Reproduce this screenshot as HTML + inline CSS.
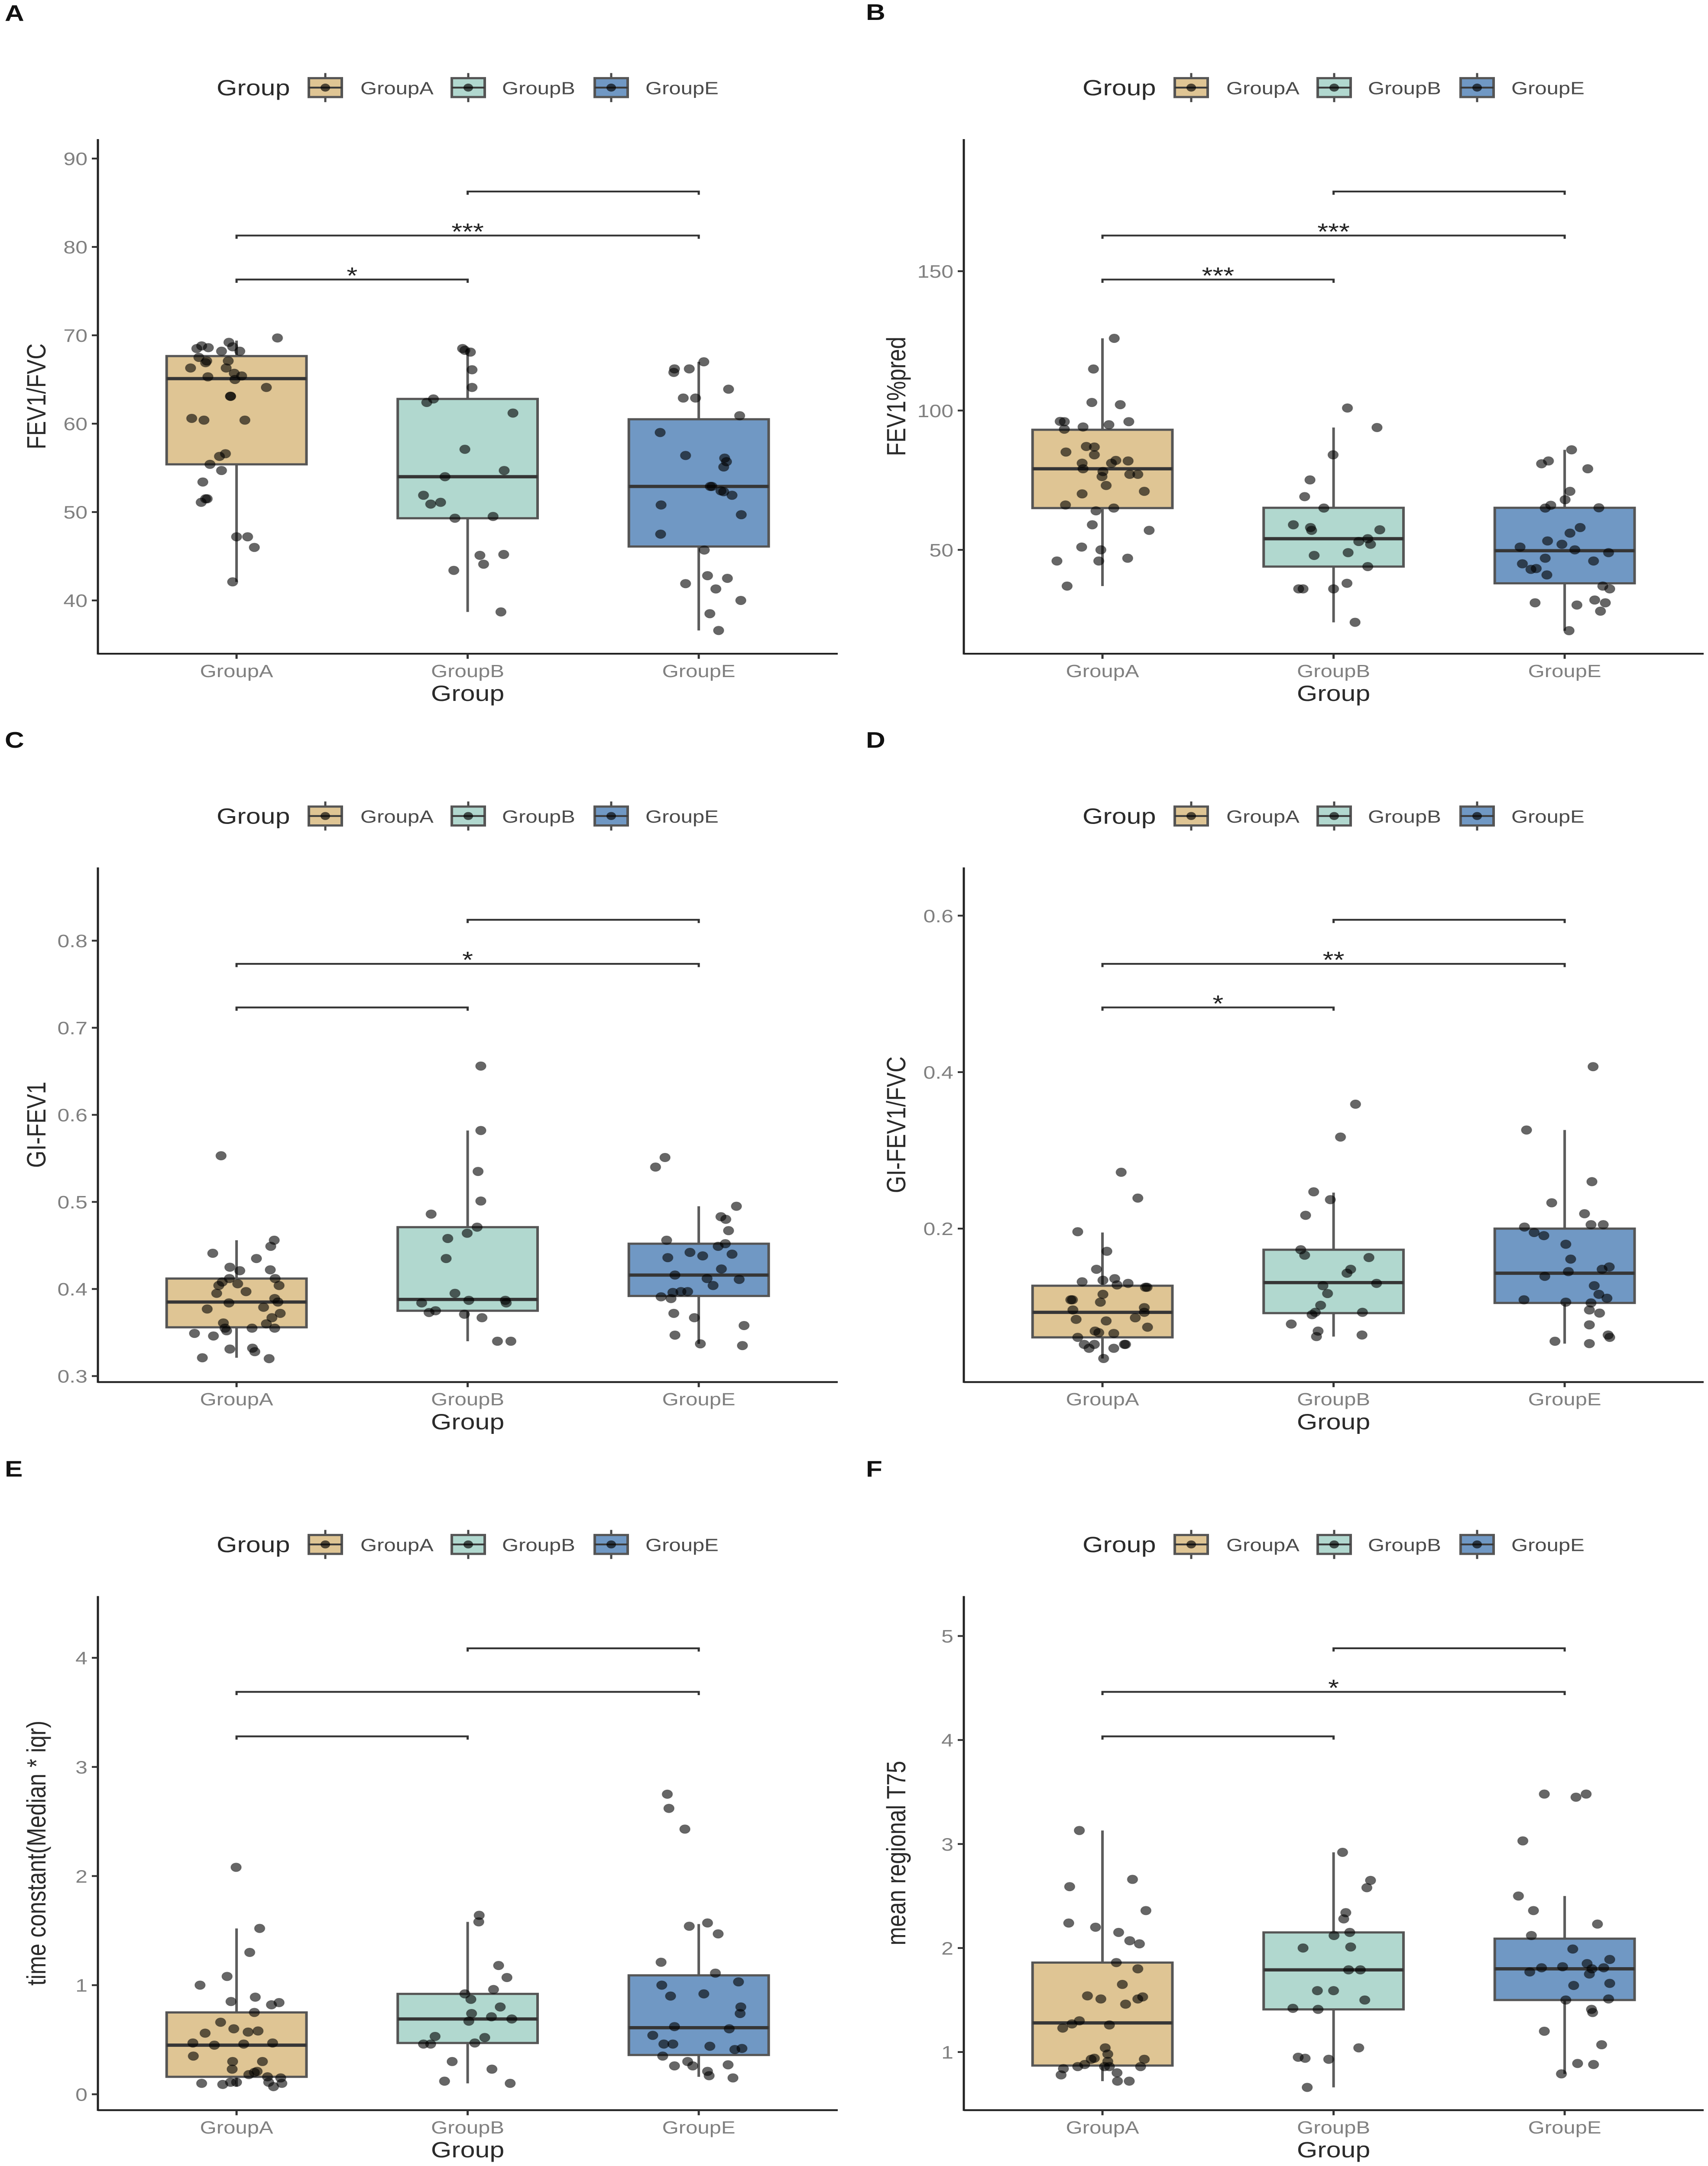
<!DOCTYPE html>
<html lang="en">
<head>
<meta charset="utf-8">
<title>Box plots by group: FEV1/FVC, FEV1%pred, GI-FEV1, GI-FEV1/FVC, time constant, mean regional T75</title>
<style>
html,body{margin:0;padding:0;background:#fff;width:100vw;height:100vh;overflow:hidden;}
#figure{display:block;position:absolute;left:0;top:0;width:100vw;height:100vh;font-family:"Liberation Sans",sans-serif;}
</style>
</head>
<body>
<svg id="figure" xmlns="http://www.w3.org/2000/svg" viewBox="0 0 3943 5959" preserveAspectRatio="none">
<rect x="0" y="0" width="3943" height="5959" fill="#ffffff"/>
<g font-family="'Liberation Sans',sans-serif" font-weight="700" font-size="62" fill="#111">
<text x="11" y="57">A</text>
<text x="1999" y="55">B</text>
<text x="11" y="2057">C</text>
<text x="1999" y="2057">D</text>
<text x="11" y="4062">E</text>
<text x="1999" y="4062">F</text>
</g>
</svg>
<script>
/* ---------- shared categories ---------- */
const categories = ['GroupA','GroupB','GroupE'];

/* ---------- Panel A: FEV1/FVC ---------- */
const panelA_yDomain = [33.97,92.2];
const panelA_ticks = [40,50,60,70,80,90];
const panelA_tickLabels = ['40','50','60','70','80','90'];
const panelA_q1 = [55.4,49.3,46.1];
const panelA_median = [65.1,54.0,52.9];
const panelA_q3 = [67.65,62.8,60.5];
const panelA_lower = [42.1,38.7,36.6];
const panelA_upper = [69.4,68.5,67.0];
const panelA_brackets = [76.31,81.29,86.27];
const panelA_stars = ['*','***',''];
const panelA_groupA_values = [69.7,68.5,68.8,68.6,69.2,68.7,68.2,68.2,67.5,66.9,67.1,67.1,66.3,66.3,65.7,65.4,65.3,65.0,64.1,63.1,63.1,60.6,60.4,60.4,56.6,56.3,55.4,54.7,53.4,51.5,51.5,51.1,47.2,47.2,46.0,42.1];
const panelA_groupA_jitter = [.177,-.172,-.151,-.122,-.033,-.017,.014,-.065,-.163,-.134,-.129,-.036,-.199,-.045,-.010,.022,-.124,-.007,.129,-.026,-.026,-.194,-.141,.036,-.048,-.074,-.115,-.065,-.146,-.127,-.134,-.153,0,.048,.077,-.017];
const panelA_groupB_values = [68.5,68.3,68.1,66.1,64.1,62.8,62.4,61.2,57.1,54.7,54.0,51.9,51.1,50.9,49.3,49.5,45.1,45.2,44.1,43.4,38.7];
const panelA_groupB_jitter = [-.022,-.012,.012,.019,.019,-.148,-.177,.196,-.012,.158,-.098,-.191,-.117,-.160,-.055,.110,.053,.156,.069,-.060,.144];
const panelA_groupE_values = [67.0,66.2,65.8,66.2,63.9,62.9,62.9,60.9,59.0,56.4,56.1,55.7,55.1,52.9,52.9,52.4,52.3,51.9,50.8,49.7,47.5,45.7,42.8,42.5,41.9,41.3,40.0,38.5,36.6];
const panelA_groupE_jitter = [.022,-.105,-.108,-.041,.129,-.067,-.014,.177,-.167,-.057,.112,.120,.108,.057,.050,.096,.108,.144,-.163,.184,-.165,.024,.038,.124,-.057,.074,.182,.048,.086];

/* ---------- Panel B: FEV1%pred ---------- */
const panelB_yDomain = [12.73,197.4];
const panelB_ticks = [50,100,150];
const panelB_tickLabels = ['50','100','150'];
const panelB_q1 = [65.0,44.0,38.0];
const panelB_median = [79.1,54.0,49.7];
const panelB_q3 = [93.1,65.1,65.1];
const panelB_lower = [37.0,24.0,21.0];
const panelB_upper = [125.9,93.9,85.9];
const panelB_brackets = [147.0,162.8,178.6];
const panelB_stars = ['***','***',''];
const panelB_groupA_values = [125.9,114.9,102.9,102.1,96.1,96.0,94.1,94.9,96.0,93.3,87.1,86.9,85.1,84.1,81.9,82.1,81.1,81.1,79.1,78.1,77.1,77.1,76.3,73.1,70.1,71.0,66.1,64.0,65.0,59.0,57.0,51.0,50.0,46.0,46.0,47.0,37.0];
const panelB_groupA_jitter = [.051,-.039,-.046,.077,-.183,-.165,-.084,.028,.114,-.165,-.070,-.035,-.158,-.035,.111,.058,.039,-.088,-.084,.002,.118,.153,-.002,.016,-.088,.181,-.160,-.028,.049,-.044,.202,-.090,-.007,-.197,-.016,.109,-.153];
const panelB_groupB_values = [100.9,93.9,84.1,75.1,69.1,65.0,59.0,58.0,57.0,57.2,54.0,53.0,52.0,48.0,49.0,44.0,38.0,36.0,36.0,36.0,24.0];
const panelB_groupB_jitter = [.060,.188,-.002,-.102,-.125,-.042,-.174,-.100,-.095,.200,.148,.109,.160,-.084,.063,.148,.058,0,-.151,-.132,.093];
const panelB_groupE_values = [85.9,80.9,81.9,79.1,71.0,68.0,66.0,65.0,65.1,58.0,56.0,53.2,52.0,51.0,50.0,49.0,47.0,46.0,45.0,43.0,43.3,41.0,37.0,36.0,31.0,30.2,32.0,31.0,28.0,21.0];
const panelB_groupE_jitter = [.030,-.100,-.070,.100,.023,.002,-.060,-.084,.148,.067,.023,-.074,-.012,-.193,.044,.190,-.084,.125,-.183,-.146,-.123,-.077,.165,.195,-.128,.053,.130,.176,.155,.019];

/* ---------- Panel C: GI-FEV1 ---------- */
const panelC_yDomain = [0.2931,0.8841];
const panelC_ticks = [0.3,0.4,0.5,0.6,0.7,0.8];
const panelC_tickLabels = ['0.3','0.4','0.5','0.6','0.7','0.8'];
const panelC_q1 = [.356,.375,.392];
const panelC_median = [.385,.388,.416];
const panelC_q3 = [.412,.471,.452];
const panelC_lower = [.321,.340,.337];
const panelC_upper = [.456,.582,.495];
const panelC_brackets = [.7233,.7734,.8240];
const panelC_stars = ['','*',''];
const panelC_groupA_values = [.553,.456,.449,.441,.435,.425,.421,.422,.412,.408,.412,.406,.404,.404,.397,.395,.389,.377,.384,.385,.379,.372,.367,.360,.361,.355,.352,.355,.355,.349,.346,.331,.332,.328,.321,.320];
const panelC_groupA_jitter = [-.067,.163,.148,-.103,.086,-.029,.014,.146,.167,-.062,-.031,.005,-.077,.184,.041,-.086,.165,-.127,-.033,.179,.117,.189,.153,.129,-.057,-.050,-.043,.165,.067,-.182,-.100,-.029,.069,.079,-.148,.141];
const panelC_groupB_values = [.656,.582,.535,.501,.486,.471,.464,.458,.435,.395,.387,.387,.384,.384,.375,.373,.371,.367,.340,.340];
const panelC_groupB_jitter = [.057,.057,.045,.057,-.158,.041,-.002,-.086,-.093,-.055,.005,.163,-.199,.167,-.139,-.167,-.014,.062,.129,.187];
const panelC_groupE_values = [.551,.540,.495,.483,.480,.467,.456,.452,.449,.442,.438,.440,.436,.423,.416,.412,.411,.404,.397,.397,.396,.391,.389,.372,.367,.358,.347,.337,.335];
const panelC_groupE_jitter = [-.146,-.187,.163,.096,.117,.129,-.139,.115,.084,-.038,.017,.144,-.134,.098,-.103,.036,.175,.062,-.048,-.077,-.112,-.163,-.120,-.108,-.019,.196,-.103,.007,.189];

/* ---------- Panel D: GI-FEV1/FVC ---------- */
const panelD_yDomain = [0.00385,0.6616];
const panelD_ticks = [0.2,0.4,0.6];
const panelD_tickLabels = ['0.2','0.4','0.6'];
const panelD_q1 = [.061,.092,.105];
const panelD_median = [.093,.131,.143];
const panelD_q3 = [.127,.173,.200];
const panelD_lower = [.034,.062,.053];
const panelD_upper = [.195,.246,.326];
const panelD_brackets = [.4827,.5384,.5947];
const panelD_stars = ['*','**',''];
const panelD_groupA_values = [.272,.239,.196,.171,.148,.132,.134,.136,.128,.130,.125,.125,.109,.109,.116,.106,.099,.096,.093,.084,.086,.082,.074,.069,.067,.066,.061,.052,.047,.052,.047,.052,.052,.034];
const panelD_groupA_jitter = [.081,.153,-.107,.019,-.026,-.088,.002,.053,.063,.111,.186,.193,-.137,-.130,.002,-.009,.181,-.128,.181,-.114,.142,.016,.195,-.032,-.016,.049,-.107,-.079,-.058,-.035,.049,.100,.095,.005];
const panelD_groupB_values = [.359,.317,.247,.237,.217,.173,.166,.163,.148,.143,.127,.130,.117,.102,.093,.090,.093,.078,.069,.064,.062];
const panelD_groupB_jitter = [.095,.030,-.086,-.014,-.121,-.142,-.125,.153,.074,.058,-.046,.186,-.026,-.056,.125,-.093,-.079,-.183,-.067,.123,-.074];
const panelD_groupE_values = [.407,.326,.260,.233,.219,.205,.205,.202,.195,.191,.180,.161,.151,.148,.145,.139,.127,.116,.111,.109,.106,.105,.096,.092,.077,.064,.061,.056,.053];
const panelD_groupE_jitter = [.123,-.165,.118,-.056,.086,.114,.167,-.174,-.132,-.090,.005,.026,.193,.162,.016,-.086,.128,.148,.183,-.176,.005,.114,.107,.151,.107,.188,.195,-.042,.107];

/* ---------- Panel E: time constant ---------- */
const panelE_yDomain = [-0.1457,4.566];
const panelE_ticks = [0,1,2,3,4];
const panelE_tickLabels = ['0','1','2','3','4'];
const panelE_q1 = [.16,.47,.36];
const panelE_median = [.45,.69,.61];
const panelE_q3 = [.75,.92,1.09];
const panelE_lower = [.07,.10,.16];
const panelE_upper = [1.52,1.58,1.56];
const panelE_brackets = [3.28,3.688,4.087];
const panelE_stars = ['','',''];
const panelE_groupA_values = [2.08,1.52,1.30,1.08,1.00,.85,.89,.82,.84,.75,.66,.60,.56,.57,.58,.47,.45,.46,.47,.35,.30,.30,.23,.21,.20,.18,.16,.15,.10,.09,.11,.11,.11,.10,.07];
const panelE_groupA_jitter = [-.002,.100,.057,-.041,-.158,-.024,.081,.151,.184,.077,-.069,-.012,-.136,.050,.093,-.189,-.096,.031,.156,-.187,-.017,.112,-.019,.089,.077,.053,.134,.191,-.151,-.060,-.026,0,.139,.196,.160];
const panelE_groupB_values = [1.64,1.58,1.18,1.07,.96,.92,.87,.80,.74,.71,.67,.69,.53,.52,.46,.46,.47,.30,.23,.12,.10];
const panelE_groupB_jitter = [.050,.048,.134,.170,.112,-.012,.014,.141,.017,.103,.005,.191,-.141,.074,-.191,-.160,.031,-.067,.105,-.100,.184];
const panelE_groupE_values = [2.75,2.62,2.43,1.57,1.54,1.47,1.21,1.11,1.00,1.03,.90,.92,.80,.74,.62,.60,.54,.46,.46,.44,.41,.42,.35,.30,.26,.26,.27,.21,.17,.15];
const panelE_groupE_jitter = [-.136,-.129,-.060,.038,-.041,.084,-.163,.072,-.160,.172,-.122,.022,.182,.179,-.105,.132,-.199,-.151,-.112,.048,.156,.187,-.156,-.048,-.026,-.105,.127,.038,.045,.148];

/* ---------- Panel F: mean regional T75 ---------- */
const panelF_yDomain = [0.441,5.384];
const panelF_ticks = [1,2,3,4,5];
const panelF_tickLabels = ['1','2','3','4','5'];
const panelF_q1 = [.87,1.41,1.50];
const panelF_median = [1.28,1.79,1.80];
const panelF_q3 = [1.86,2.15,2.09];
const panelF_lower = [.72,.66,.79];
const panelF_upper = [3.13,2.92,2.50];
const panelF_brackets = [4.035,4.463,4.882];
const panelF_stars = ['','*',''];
const panelF_groupA_values = [3.13,2.66,2.59,2.36,2.24,2.20,2.15,2.07,2.04,1.86,1.80,1.65,1.54,1.51,1.53,1.51,1.46,1.30,1.27,1.23,1.26,1.04,.98,.94,.93,.93,.91,.88,.86,.86,.84,.86,.86,.80,.78,.72,.72];
const panelF_groupA_jitter = [-.100,.130,-.142,.188,-.146,-.030,.070,.118,.160,.060,.153,.086,-.065,-.007,.174,.153,.100,-.100,-.132,-.172,.030,.012,.023,-.035,-.049,.181,.023,-.077,-.107,.165,-.169,.009,.030,.063,-.179,.065,.116];
const panelF_groupB_values = [2.92,2.65,2.58,2.34,2.28,2.15,2.12,2.00,2.01,1.79,1.79,1.59,1.59,1.50,1.42,1.41,1.04,.95,.94,.93,.66];
const panelF_groupB_jitter = [.039,.160,.144,.053,.044,.070,.002,-.132,.074,.065,.116,-.070,0,.135,-.176,-.067,.109,-.153,-.123,-.021,-.114];
const panelF_groupE_values = [3.48,3.48,3.45,3.03,2.50,2.36,2.23,2.12,1.99,1.89,1.85,1.82,1.81,1.77,1.81,1.80,1.75,1.66,1.64,1.50,1.51,1.41,1.38,1.20,1.07,.89,.88,.79];
const panelF_groupE_jitter = [-.088,.093,.049,-.181,-.200,-.135,.142,-.144,.035,.195,.097,-.009,-.100,-.151,.169,.118,.107,.195,.039,.005,.190,.116,.121,-.088,.160,.056,.125,-.014];

/* ---------- layout of each panel ---------- */
const panels = [
 {id:'a',title:'FEV1/FVC',dx:0,top:382.7,bottom:1798.5,legendY:241,titleX:105,domain:panelA_yDomain,ticks:panelA_ticks,labels:panelA_tickLabels,q1:panelA_q1,med:panelA_median,q3:panelA_q3,lo:panelA_lower,hi:panelA_upper,br:panelA_brackets,st:panelA_stars,vals:[panelA_groupA_values,panelA_groupB_values,panelA_groupE_values],jit:[panelA_groupA_jitter,panelA_groupB_jitter,panelA_groupE_jitter]},
 {id:'b',title:'FEV1%pred',dx:1999,top:382.7,bottom:1798.5,legendY:241,titleX:2090,domain:panelB_yDomain,ticks:panelB_ticks,labels:panelB_tickLabels,q1:panelB_q1,med:panelB_median,q3:panelB_q3,lo:panelB_lower,hi:panelB_upper,br:panelB_brackets,st:panelB_stars,vals:[panelB_groupA_values,panelB_groupB_values,panelB_groupE_values],jit:[panelB_groupA_jitter,panelB_groupB_jitter,panelB_groupE_jitter]},
 {id:'c',title:'GI-FEV1',dx:0,top:2386.5,bottom:3802.3,legendY:2245,titleX:105,domain:panelC_yDomain,ticks:panelC_ticks,labels:panelC_tickLabels,q1:panelC_q1,med:panelC_median,q3:panelC_q3,lo:panelC_lower,hi:panelC_upper,br:panelC_brackets,st:panelC_stars,vals:[panelC_groupA_values,panelC_groupB_values,panelC_groupE_values],jit:[panelC_groupA_jitter,panelC_groupB_jitter,panelC_groupE_jitter]},
 {id:'d',title:'GI-FEV1/FVC',dx:1999,top:2386.5,bottom:3802.3,legendY:2245,titleX:2090,domain:panelD_yDomain,ticks:panelD_ticks,labels:panelD_tickLabels,q1:panelD_q1,med:panelD_median,q3:panelD_q3,lo:panelD_lower,hi:panelD_upper,br:panelD_brackets,st:panelD_stars,vals:[panelD_groupA_values,panelD_groupB_values,panelD_groupE_values],jit:[panelD_groupA_jitter,panelD_groupB_jitter,panelD_groupE_jitter]},
 {id:'e',title:'time constant(Median * iqr)',dx:0,top:4391,bottom:5805.4,legendY:4249,titleX:105,domain:panelE_yDomain,ticks:panelE_ticks,labels:panelE_tickLabels,q1:panelE_q1,med:panelE_median,q3:panelE_q3,lo:panelE_lower,hi:panelE_upper,br:panelE_brackets,st:panelE_stars,vals:[panelE_groupA_values,panelE_groupB_values,panelE_groupE_values],jit:[panelE_groupA_jitter,panelE_groupB_jitter,panelE_groupE_jitter]},
 {id:'f',title:'mean regional T75',dx:1999,top:4391,bottom:5805.4,legendY:4249,titleX:2090,domain:panelF_yDomain,ticks:panelF_ticks,labels:panelF_tickLabels,q1:panelF_q1,med:panelF_median,q3:panelF_q3,lo:panelF_lower,hi:panelF_upper,br:panelF_brackets,st:panelF_stars,vals:[panelF_groupA_values,panelF_groupB_values,panelF_groupE_values],jit:[panelF_groupA_jitter,panelF_groupB_jitter,panelF_groupE_jitter]}
];

const fills = ['#DFC594','#B1D8CF','#7098C4'];
const NS = 'http://www.w3.org/2000/svg';
const root = document.getElementById('figure');
function mk(tag, attrs, parent, text){
  const n = document.createElementNS(NS, tag);
  for (const k in attrs) n.setAttribute(k, attrs[k]);
  if (text !== undefined) n.textContent = text;
  parent.appendChild(n);
  return n;
}

const LEFT = 226, UNIT = 533.5, RIGHT = 1934;
const BOXW = 0.605;
const POINT_R = 12;

panels.forEach(function(p){
  const g = mk('g', {}, root);
  
  

  const xAxisPos = function(i, jitter){ return p.dx + LEFT + (i + 0.6 + (jitter || 0)) * UNIT; };
  const yScale = function(v){ return p.bottom - (v - p.domain[0]) / (p.domain[1] - p.domain[0]) * (p.bottom - p.top); };

  /* legend */
  const legend = mk('g', {}, g);
  
  
  const lt = mk('text', {x:p.dx + 500, y:p.legendY + 21, 'font-size':61, fill:'#2a2a2a'}, legend, 'Group');
  
  
  const keyX = [751, 1081, 1411];
  const labX = [832, 1159, 1490];
  categories.forEach(function(cat, i){
    const cx = p.dx + keyX[i], cy = p.legendY;
    const k = mk('g', {}, legend);
    
    
    mk('line', {x1:cx, x2:cx, y1:cy - 40, y2:cy + 40, stroke:'#4a4a4a', 'stroke-width':5}, k);
    mk('rect', {x:cx - 38, y:cy - 26, width:76, height:52, fill:fills[i], stroke:'#555', 'stroke-width':6}, k);
    mk('line', {x1:cx - 38, x2:cx + 38, y1:cy, y2:cy, stroke:'#3a3a3a', 'stroke-width':5}, k);
    mk('circle', {cx:cx, cy:cy, r:11, fill:'#000', 'fill-opacity':.65}, k);
    const lb = mk('text', {x:p.dx + labX[i], y:cy + 18, 'font-size':49, fill:'#4a4a4a'}, legend, cat);
    
    
  });

  /* axes */
  const yAxis = mk('line', {x1:p.dx + LEFT, x2:p.dx + LEFT, y1:p.top, y2:p.bottom + 2, stroke:'#222', 'stroke-width':5}, g);
  
  
  const xAxis = mk('line', {x1:p.dx + LEFT, x2:p.dx + RIGHT, y1:p.bottom, y2:p.bottom, stroke:'#222', 'stroke-width':5}, g);
  
  

  p.ticks.forEach(function(t, i){
    const y = yScale(t);
    const tk = mk('line', {x1:p.dx + LEFT - 14, x2:p.dx + LEFT, y1:y, y2:y, stroke:'#333', 'stroke-width':5}, g);
    
    
    const tl = mk('text', {x:p.dx + LEFT - 24, y:y + 18, 'font-size':50, fill:'#808080', 'text-anchor':'end'}, g, p.labels[i]);
    
    
  });

  categories.forEach(function(cat, i){
    const x = xAxisPos(i);
    const tk = mk('line', {x1:x, x2:x, y1:p.bottom, y2:p.bottom + 14, stroke:'#333', 'stroke-width':5}, g);
    
    
    const tl = mk('text', {x:x, y:p.bottom + 64, 'font-size':49, fill:'#808080', 'text-anchor':'middle'}, g, cat);
    
    
  });

  const xTitle = mk('text', {x:xAxisPos(1), y:p.bottom + 130, 'font-size':61, fill:'#2a2a2a', 'text-anchor':'middle'}, g, 'Group');
  
  
  const cyT = (p.top + p.bottom) / 2;
  const yTitle = mk('text', {x:p.titleX, y:cyT, 'font-size':61, fill:'#2a2a2a', 'text-anchor':'middle', transform:'rotate(-90 ' + p.titleX + ' ' + cyT + ')'}, g, p.title);
  
  

  /* boxes */
  categories.forEach(function(cat, i){
    const cx = xAxisPos(i);
    const bw = BOXW * UNIT;
    const box = mk('g', {}, g);
    
    
    mk('line', {x1:cx, x2:cx, y1:yScale(p.hi[i]), y2:yScale(p.q3[i]), stroke:'#5c5c5c', 'stroke-width':6}, box);
    mk('line', {x1:cx, x2:cx, y1:yScale(p.q1[i]), y2:yScale(p.lo[i]), stroke:'#5c5c5c', 'stroke-width':6}, box);
    mk('rect', {x:cx - bw / 2, y:yScale(p.q3[i]), width:bw, height:yScale(p.q1[i]) - yScale(p.q3[i]), fill:fills[i], stroke:'#555', 'stroke-width':6}, box);
    mk('line', {x1:cx - bw / 2, x2:cx + bw / 2, y1:yScale(p.med[i]), y2:yScale(p.med[i]), stroke:'#363636', 'stroke-width':9}, box);
  });

  /* jittered points */
  categories.forEach(function(cat, i){
    const pts = mk('g', {}, g);
    
    
    p.vals[i].forEach(function(v, j){
      const c = mk('circle', {cx:xAxisPos(i, p.jit[i][j]), cy:yScale(v), r:POINT_R, fill:'#000', 'fill-opacity':.6, stroke:'#000', 'stroke-opacity':.25, 'stroke-width':2}, pts);
      
      
    });
  });

  /* significance brackets: A-B, A-E, B-E */
  const pairs = [[0,1],[0,2],[1,2]];
  pairs.forEach(function(pr, i){
    const y = yScale(p.br[i]);
    const x1 = xAxisPos(pr[0]), x2 = xAxisPos(pr[1]);
    const b = mk('path', {d:'M' + x1 + ' ' + (y + 9) + 'V' + y + 'H' + x2 + 'V' + (y + 9), fill:'none', stroke:'#333', 'stroke-width':5}, g);
    
    
    if (p.st[i]) {
      const s = mk('text', {x:(x1 + x2) / 2, y:y + 11, 'font-size':64, fill:'#222', 'text-anchor':'middle'}, g, p.st[i]);
      
      
    }
  });
});
</script>
</body>
</html>
